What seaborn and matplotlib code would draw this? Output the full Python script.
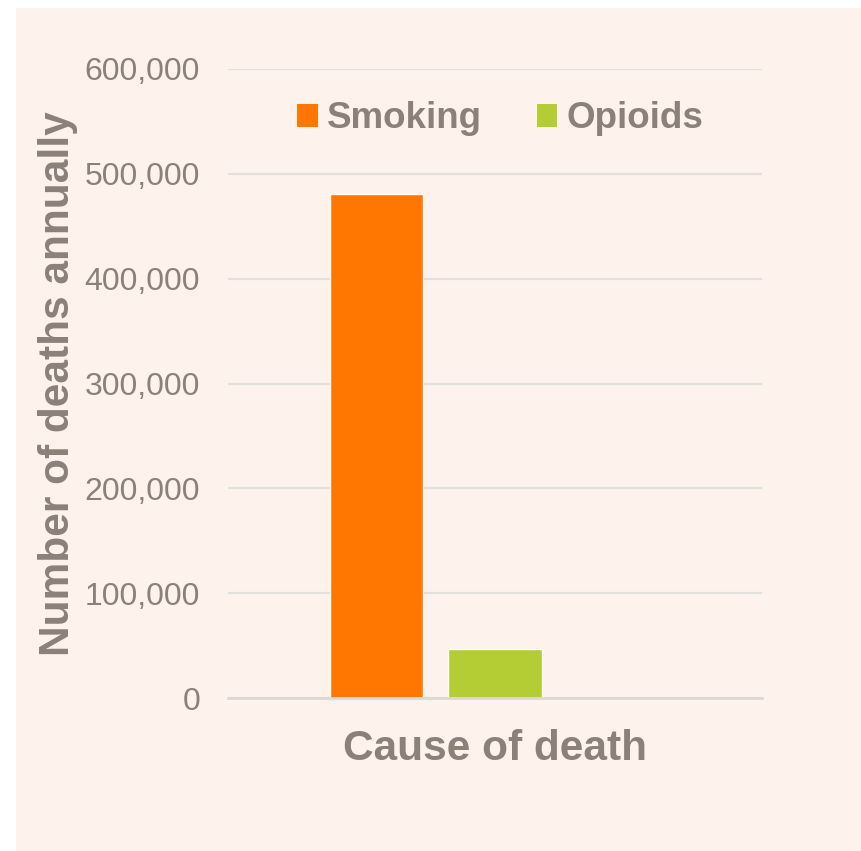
import matplotlib
matplotlib.use("Agg")
import matplotlib.pyplot as plt
from matplotlib.patches import Patch, Rectangle
from matplotlib.ticker import FuncFormatter
import seaborn as sns
import pandas as pd

causes = ["Smoking", "Opioids"]
deaths = [481000, 47000]
colors = ["#FF7700", "#B5CD35"]
y_ticks = [0, 100000, 200000, 300000, 400000, 500000, 600000]

sns.set_theme(style="white")
plt.rcParams['font.family'] = ['Liberation Sans', 'DejaVu Sans']

TXT = "#8B8178"
BG = "#FDF2EC"

W, H = 862, 851
fig = plt.figure(figsize=(W / 100, H / 100), dpi=100, facecolor="white")
fig.patches.append(Rectangle((16 / W, 0), 1 - 16 / W, 1 - 8 / H, transform=fig.transFigure,
                             facecolor=BG, edgecolor="none", zorder=-10))
ax = fig.add_axes([228 / W, 1 - 698 / H, (762 - 228) / W, (698 - 69) / H])
ax.set_facecolor(BG)
ax.patch.set_alpha(0)

df = pd.DataFrame({"cause": causes, "deaths": deaths})
sns.barplot(data=df, x="cause", y="deaths", hue="cause", palette=colors,
            width=0.79, ax=ax, legend=False, saturation=1)

ax.set_xlim(-1.257, 3.257)
ax.set_ylim(0, 600000)
ax.set_yticks(y_ticks)
ax.yaxis.set_major_formatter(FuncFormatter(lambda v, p: f"{int(v):,}"))
ax.tick_params(axis="y", length=0, pad=20, labelsize=23, labelcolor=TXT)
ax.set_xticks([])
ax.grid(axis="y", color="#E3DFDB", linewidth=1.5)
ax.set_axisbelow(True)
for s in ["top", "right", "left"]:
    ax.spines[s].set_visible(False)
ax.spines["bottom"].set_color("#DCD8D4")
ax.spines["bottom"].set_linewidth(2)

ax.set_xlabel("Cause of death", fontsize=30.5, fontweight="bold", color=TXT, labelpad=22)
ax.set_ylabel("Number of deaths annually", fontsize=30.5, fontweight="bold", color=TXT, labelpad=4.5)

handles = [Patch(facecolor=c, edgecolor="none", label=l) for c, l in zip(colors, causes)]
leg = ax.legend(handles=handles, ncol=2, frameon=False, loc="center left",
                bbox_to_anchor=((298 - 228) / (762 - 228) - 0.063, (698 - 119) / (698 - 69)),
                prop={"size": 26.5, "weight": "bold"}, handlelength=0.55, handleheight=0.55,
                handletextpad=0.25, columnspacing=1.5)
for t in leg.get_texts():
    t.set_color(TXT)

fig.savefig("out.png", dpi=100, facecolor="white")
